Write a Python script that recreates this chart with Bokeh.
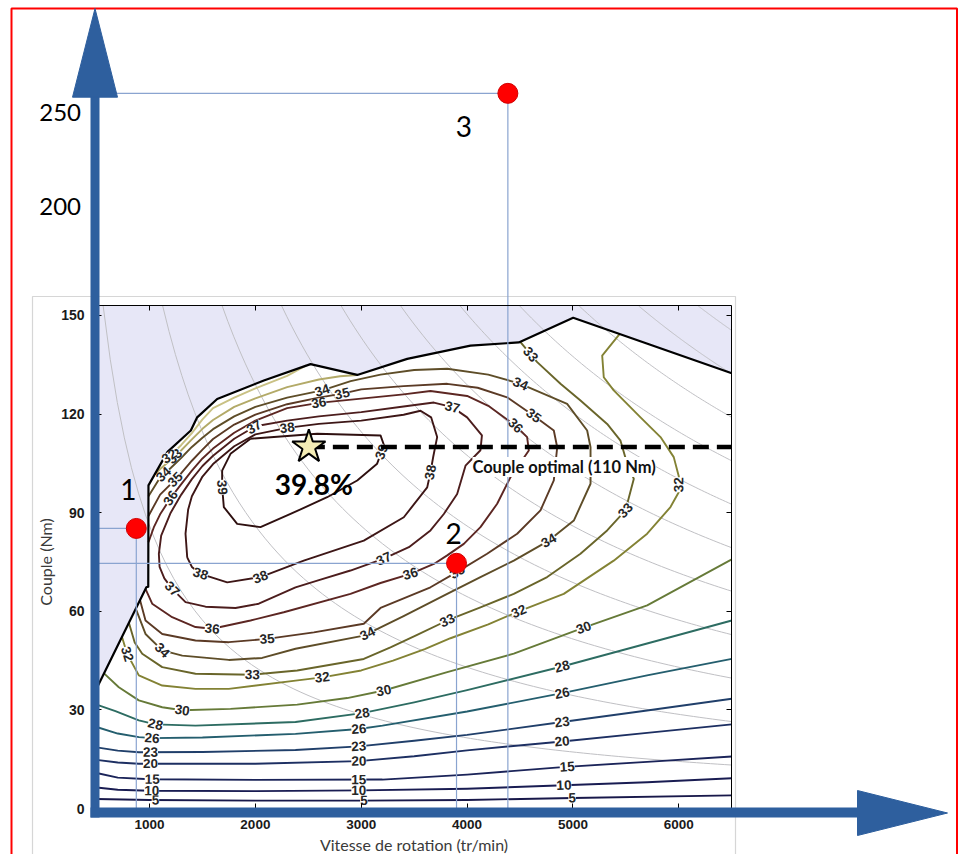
import math
import numpy as np
from bokeh.plotting import figure
from bokeh.models import Range1d, LinearAxis, FixedTicker, ColumnDataSource
from bokeh.core.properties import value
from bokeh.embed import file_html
from bokeh.resources import INLINE

# ---------------- values ----------------
x_ticks = [1000, 2000, 3000, 4000, 5000, 6000]      # tr/min
y_ticks = [0, 30, 60, 90, 120, 150]                  # Nm
overlay_ticks = [200, 250]                           # hand-drawn outer scale

# full-load (maximum torque) curve
env_rpm = [500, 970, 988, 990, 1170, 1390, 1450, 1639, 2080, 2521, 2962, 3434, 4032, 4488, 5002, 6500]
env_nm = [36.5, 67.3, 67.5, 98.3, 108.5, 115.0, 119.0, 124.6, 130.2, 135.2, 131.9, 136.8, 140.8, 141.8, 149.3, 132.4]

# iso-power background curves (kW)
power_kw = [9, 18, 27, 36, 45, 54, 63, 72, 81, 90, 99]

# efficiency contours (%)
c5_rpm = [500, 1000, 2000, 3000, 4000, 5000, 6500]
c5_nm = [2.9, 2.6, 2.4, 2.4, 2.6, 3.2, 4.0]
c10_rpm = [500, 700, 1000, 2000, 3000, 4000, 4850, 5700, 6500]
c10_nm = [6.4, 5.7, 5.4, 5.3, 5.5, 6.0, 7.0, 8.0, 9.2]
c15_rpm = [500, 700, 1000, 2000, 3200, 4000, 4900, 5700, 6500]
c15_nm = [10.8, 9.4, 8.9, 8.7, 8.8, 10.3, 12.6, 14.2, 15.8]
c20_rpm = [500, 700, 900, 2000, 2977, 3500, 4000, 4898, 5700, 6500]
c20_nm = [14.8, 14.0, 13.6, 13.6, 14.4, 15.9, 17.7, 20.4, 23.0, 25.6]
c23_rpm = [500, 700, 900, 1500, 2379, 2977, 3500, 4000, 4898, 5700, 6500]
c23_nm = [18.6, 17.6, 17.1, 17.2, 17.8, 18.9, 20.6, 22.4, 26.3, 29.8, 33.4]
c26_rpm = [500, 700, 900, 1025, 1500, 2379, 2977, 3200, 4000, 4898, 5700, 6500]
c26_nm = [24.8, 22.8, 21.7, 21.4, 21.6, 22.7, 24.2, 25.2, 29.5, 35.1, 40.5, 45.5]
c28_rpm = [500, 678, 899, 1056, 1434, 2379, 3009, 3500, 4000, 4898, 5700, 6500]
c28_nm = [31.6, 29.6, 26.8, 25.6, 25.2, 26.3, 29.0, 32.3, 36.0, 43.2, 50.2, 57.2]
c30_rpm = [570, 710, 899, 1120, 1309, 1765, 2395, 2867, 3213, 3812, 4441, 5102, 5701, 6500]
c30_nm = [41.1, 36.9, 32.9, 30.8, 29.9, 30.3, 31.6, 33.6, 35.9, 41.5, 47.1, 55.0, 61.8, 75.8]
c32_rpm = [740, 789, 899, 1120, 1434, 1749, 2379, 2631, 3000, 3300, 3600, 3843, 4200, 4488, 4913, 5385,
           5701, 5921, 5999, 6000, 5952, 5827, 5638, 5385, 5291, 5276, 5440]
c32_nm = [52.2, 47.0, 40.5, 37.4, 36.4, 36.4, 38.9, 39.9, 42.0, 45.0, 48.5, 51.8, 56.0, 60.0, 65.3, 75.4,
          83.6, 91.7, 96.2, 101.0, 106.9, 113.0, 119.0, 127.2, 131.2, 137.8, 144.3]
c32u_rpm = [1120, 1200, 1300, 1400, 1500, 1600, 1800, 2000, 2300, 2480]
c32u_nm = [105.7, 107.4, 110.6, 114.2, 118.4, 121.8, 125.0, 127.8, 131.6, 134.8]
c33_rpm = [805, 860, 931, 1120, 1434, 1970, 2395, 3024, 3276, 3528, 3812, 4126, 4441, 4756, 5071, 5323,
           5496, 5575, 5512, 5449, 5323, 5071, 4882, 4662, 4504]
c33_nm = [56.5, 50.5, 47.1, 43.0, 41.0, 40.7, 42.0, 45.5, 49.0, 52.8, 57.2, 61.2, 65.3, 70.4, 77.5, 84.6,
          90.7, 100.3, 104.9, 111.9, 117.0, 124.1, 129.2, 135.8, 141.9]
c33u_rpm = [1050, 1100, 1200, 1300, 1400, 1500, 1600, 1800, 2000, 2300, 2600, 2800, 2962]
c33u_nm = [101.7, 103.3, 106.0, 109.0, 112.3, 115.5, 118.2, 122.2, 124.8, 128.2, 130.5, 131.5, 131.9]
c34_rpm = [870, 962, 1120, 1309, 1749, 2064, 2379, 3024, 3400, 3812, 4126, 4441, 4772, 5008, 5166, 5166,
           5134, 4945, 4504, 4200, 3812, 3500, 3182, 2900, 2631, 2300, 2000, 1800, 1600, 1500, 1400,
           1300, 1200, 1100, 990]
c34_nm = [60.8, 53.1, 48.1, 46.5, 45.2, 45.8, 48.6, 52.6, 58.5, 65.3, 70.4, 75.4, 81.5, 87.6, 98.8, 109.9,
          115.0, 123.1, 129.2, 132.0, 133.8, 133.4, 132.0, 130.0, 127.2, 125.0, 122.2, 119.3, 115.4, 112.8,
          110.0, 106.7, 103.6, 100.7, 95.0]
c35_rpm = [910, 962, 1120, 1434, 1749, 2111, 2552, 3024, 3182, 3654, 3906, 4189, 4473, 4693, 4819, 4851,
           4819, 4630, 4378, 4100, 3812, 3400, 3000, 2820, 2600, 2300, 2000, 1800, 1600, 1500, 1400,
           1300, 1200, 1100, 990]
c35_nm = [63.4, 57.2, 53.1, 51.1, 50.6, 51.6, 53.6, 56.2, 61.0, 67.3, 72.0, 77.5, 83.6, 90.7, 99.8, 109.9,
          115.0, 119.5, 125.1, 128.0, 129.2, 128.5, 127.5, 126.2, 125.0, 123.0, 119.8, 116.8, 112.4, 109.2,
          105.8, 102.0, 98.7, 95.5, 89.0]
c36_rpm = [962, 1025, 1214, 1434, 1592, 1954, 2268, 2898, 3182, 3465, 3686, 3812, 3969, 4126, 4284, 4410,
           4583, 4567, 4457, 4200, 4000, 3654, 3400, 3000, 2600, 2300, 2000, 1800, 1600, 1500, 1400, 1300,
           1200, 1100, 1040, 990]
c36_nm = [66.8, 62.3, 58.2, 55.2, 54.7, 57.2, 59.7, 65.3, 68.6, 71.4, 74.4, 77.0, 80.5, 85.6, 92.7, 100.8,
          108.9, 113.0, 116.5, 122.5, 125.5, 127.0, 126.0, 124.7, 123.4, 121.8, 118.0, 114.3, 109.5, 106.5,
          102.8, 98.7, 94.5, 89.5, 85.5, 81.0]
c37_rpm = [1088, 1110, 1200, 1300, 1400, 1500, 1600, 1800, 2000, 2300, 2600, 3000, 3400, 3686, 3860, 4000,
           4140, 4126, 3985, 3906, 3780, 3654, 3450, 3213, 2898, 2600, 2379, 2032, 1812, 1529, 1340, 1214,
           1140, 1095, 1088]
c37_nm = [77.5, 83.0, 90.0, 95.5, 100.2, 104.2, 107.3, 112.5, 116.3, 118.0, 119.3, 120.6, 122.3, 123.5,
          122.1, 119.0, 113.5, 109.0, 104.3, 95.7, 89.6, 84.6, 79.5, 76.0, 72.4, 69.5, 67.3, 62.3, 61.0,
          61.4, 62.8, 66.8, 70.0, 73.5, 77.5]
c38_rpm = [1356, 1340, 1365, 1400, 1500, 1600, 1800, 2000, 2300, 2600, 3000, 3400, 3560, 3660, 3717, 3680,
           3654, 3623, 3402, 3024, 2457, 2048, 1734, 1482, 1400, 1356]
c38_nm = [76.4, 83.6, 91.0, 95.0, 101.0, 104.8, 110.2, 113.8, 115.8, 117.0, 118.0, 119.8, 121.0, 119.0,
          113.0, 107.0, 102.3, 97.7, 88.6, 81.5, 75.4, 70.4, 68.8, 71.4, 73.5, 76.4]
c39_rpm = [1954, 2584, 3182, 3215, 3150, 2962, 2678, 2332, 2048, 1828, 1702, 1686, 1686, 1765, 1954]
c39_nm = [112.5, 114.0, 113.5, 110.5, 104.9, 99.8, 94.7, 89.6, 85.6, 86.6, 91.7, 97.7, 102.8, 107.9, 112.5]

# contour labels: which line, approximate position
lab_key = ["5", "5", "5", "10", "10", "10", "15", "15", "15", "20", "20", "20", "23", "23", "23",
           "26", "26", "26", "28", "28", "28", "30", "30", "30", "32", "32", "32", "32",
           "33", "33", "33", "33", "33u", "32u", "34", "34", "34", "34", "34", "34",
           "35", "35", "35", "35", "35", "36", "36", "36", "36", "36",
           "37", "37", "37", "37", "38", "38", "38", "38", "39", "39"]
lab_rpm = [1056, 3025, 4992, 1020, 2977, 4915, 1025, 2977, 4946, 1009, 2977, 4898, 1009, 2977, 4898,
           1025, 2977, 4898, 1056, 3009, 4898, 1309, 3213, 5102, 789, 2631, 4488, 6000,
           1970, 3812, 5496, 4567, 1229, 1180, 1120, 3055, 4772, 4504, 2631, 1135,
           2111, 3906, 4630, 2820, 1261, 1592, 3465, 4457, 2599, 1198,
           1214, 3213, 3860, 1985, 1482, 2048, 3654, 2300, 1686, 3200]
lab_nm = [2.4, 2.4, 3.1, 5.4, 5.5, 7.0, 8.8, 8.9, 12.8, 13.6, 14.4, 20.4, 17.1, 18.9, 26.3,
          21.4, 24.2, 35.1, 25.6, 29.0, 43.2, 29.9, 35.9, 55.0, 47.0, 39.9, 60.0, 98.5,
          40.7, 57.2, 90.7, 137.3, 107.5, 107.5, 48.1, 53.5, 81.5, 129.2, 127.2, 101.5,
          51.6, 72.0, 119.5, 126.2, 99.5, 54.7, 71.4, 116.5, 123.4, 94.5,
          66.8, 76.0, 122.1, 116.2, 71.4, 70.4, 102.3, 116.0, 97.7, 108.4]

# optimum
optimum_rpm = 2505
optimum_nm = 110
optimum_eff = 39.8

# marked operating points
pt_rpm = [875, 3900]
pt_nm = [85.2, 74.6]
pt_name = ["1", "2"]
p3_rpm = [4385]
p3_val = [260]          # on the hand-drawn outer scale
p3_name = ["3"]

# ---------------- layout (screen calibration) ----------------
W, H = 960, 854
OFF = 0
PX_PER_RPM = 0.10586
PX_PER_NM = 3.287
X500_PAGE = 96.1
Y0_PAGE = 808.0
OV_PX = 1.886
OV250_PAGE = 111.7
TOP = 152.9


def rpm_at(px):
    return 500 + (px - X500_PAGE) / PX_PER_RPM


def nm_at(py):
    return (Y0_PAGE - py) / PX_PER_NM


def ov_at(py):
    return 250 + (OV250_PAGE - py) / OV_PX


p = figure(width=W, height=H, title=None,
           x_range=Range1d(rpm_at(OFF), rpm_at(OFF + W)),
           y_range=Range1d(nm_at(OFF + H), nm_at(OFF)),
           x_axis_type=None, y_axis_type=None,
           output_backend="svg", toolbar_location=None,
           min_border=0, outline_line_color=None,
           background_fill_color="white", border_fill_color="white")
p.extra_y_ranges = {"overlay": Range1d(ov_at(OFF + H), ov_at(OFF))}

# red outer frame
p.quad(left=[rpm_at(11)], right=[rpm_at(956.5)], top=[nm_at(8)], bottom=[nm_at(900)],
       fill_color=None, line_color="#ff0000", line_width=2)
# border of pasted chart picture
p.quad(left=[rpm_at(32)], right=[rpm_at(735)], top=[nm_at(296)], bottom=[nm_at(900)],
       fill_color=None, line_color="#d6d6d6", line_width=1.2)

# region above full-load curve
p.patch(env_rpm + [6500, 500], env_nm + [TOP, TOP], fill_color="#e7e7f7", line_color=None)

# iso-power curves T = 9549 P / n
ps_x, ps_y = [], []
for P in power_kw:
    n0 = max(500.0, 9549.0 * P / TOP)
    n = np.linspace(n0, 6500, 90)
    ps_x.append(n.tolist())
    ps_y.append((9549.0 * P / n).tolist())
p.multi_line(ps_x, ps_y, line_color="#c0c0c4", line_width=1)

pieces = {
    "5": (c5_rpm, c5_nm), "10": (c10_rpm, c10_nm), "15": (c15_rpm, c15_nm), "20": (c20_rpm, c20_nm),
    "23": (c23_rpm, c23_nm), "26": (c26_rpm, c26_nm), "28": (c28_rpm, c28_nm), "30": (c30_rpm, c30_nm),
    "32": (c32_rpm, c32_nm), "32u": (c32u_rpm, c32u_nm), "33": (c33_rpm, c33_nm), "33u": (c33u_rpm, c33u_nm),
    "34": (c34_rpm, c34_nm), "35": (c35_rpm, c35_nm), "36": (c36_rpm, c36_nm), "37": (c37_rpm, c37_nm),
    "38": (c38_rpm, c38_nm), "39": (c39_rpm, c39_nm),
}
line_colors = {
    "5": "#18184a", "10": "#191c52", "15": "#1b2459", "20": "#1d2f62", "23": "#203f6a", "26": "#245e6e",
    "28": "#2d6c62", "30": "#667a38", "32": "#838234", "32u": "#c9c184", "33": "#69652a", "33u": "#b3aa68",
    "34": "#5e4d28", "35": "#5b3a25", "36": "#5c2622", "37": "#4c1d1d", "38": "#3d1616", "39": "#2e1010",
}
keys = list(pieces)
csrc = ColumnDataSource(dict(xs=[pieces[k][0] for k in keys], ys=[pieces[k][1] for k in keys],
                             c=[line_colors[k] for k in keys]))
p.multi_line("xs", "ys", source=csrc, line_color="c", line_width=1.9, line_join="round")

# full-load curve
p.line(env_rpm, env_nm, line_color="black", line_width=2.2, line_join="round")


def snap(xs, ys, x, y):
    X = np.asarray(xs, float) * PX_PER_RPM
    Y = np.asarray(ys, float) * PX_PER_NM
    px, py = x * PX_PER_RPM, y * PX_PER_NM
    best = None
    for i in range(len(X) - 1):
        ax, ay, bx, by = X[i], Y[i], X[i + 1], Y[i + 1]
        dx, dy = bx - ax, by - ay
        L2 = dx * dx + dy * dy
        t = 0.0 if L2 == 0 else max(0.0, min(1.0, ((px - ax) * dx + (py - ay) * dy) / L2))
        qx, qy = ax + t * dx, ay + t * dy
        d = (qx - px) ** 2 + (qy - py) ** 2
        if best is None or d < best[0]:
            best = (d, qx, qy, math.atan2(dy, dx))
    _, qx, qy, ang = best
    if ang > math.pi / 2 + 1e-6:
        ang -= math.pi
    if ang < -math.pi / 2 + 1e-6:
        ang += math.pi
    return qx / PX_PER_RPM, qy / PX_PER_NM, ang


lx, ly, la, lt = [], [], [], []
for k, x, y in zip(lab_key, lab_rpm, lab_nm):
    sx, sy, a = snap(pieces[k][0], pieces[k][1], x, y)
    lx.append(sx)
    ly.append(sy)
    la.append(a)
    lt.append(k.rstrip("u"))
p.text(lx, ly, text=lt, angle=la, text_align="center", text_baseline="middle",
       text_font=value("Liberation Sans"), text_font_style="bold", text_font_size="13.5px",
       text_color="#262626", background_fill_color="white")

# guide lines of marked points
guide = "#8aa4d0"
p.multi_line([[500, pt_rpm[0]], [pt_rpm[0], pt_rpm[0]], [500, pt_rpm[1]], [pt_rpm[1], pt_rpm[1]]],
             [[pt_nm[0], pt_nm[0]], [0, pt_nm[0]], [pt_nm[1], pt_nm[1]], [0, pt_nm[1]]],
             line_color=guide, line_width=1.2)
ov_zero = ov_at(Y0_PAGE)
p.multi_line([[500, p3_rpm[0]], [p3_rpm[0], p3_rpm[0]]],
             [[p3_val[0], p3_val[0]], [ov_zero, p3_val[0]]],
             line_color=guide, line_width=1.2, y_range_name="overlay")

# optimum torque line, star and texts
p.line([optimum_rpm, 6500], [optimum_nm, optimum_nm], line_color="black", line_width=4.5,
       line_dash="16 8")
p.scatter([optimum_rpm], [optimum_nm], marker="star", size=35, fill_color="#f4edb6",
          line_color="black", line_width=2)
p.text([optimum_rpm], [optimum_nm], text=[f"{optimum_eff}%"], x_offset=5, y_offset=37,
       text_align="center", text_baseline="middle", text_font=value("Lato"), text_font_style="bold",
       text_font_size="28px", text_color="black")
p.text([4050], [optimum_nm], text=[f"Couple optimal ({optimum_nm} Nm)"], y_offset=20,
       text_align="left", text_baseline="middle", text_font=value("Lato"), text_font_style="bold",
       text_font_size="16.5px", text_color="#111111", background_fill_color="white")

# axes of the efficiency map
def style_axis(ax):
    ax.major_tick_in = 5
    ax.major_tick_out = 0
    ax.minor_tick_line_color = None
    ax.axis_line_color = "black"
    ax.major_tick_line_color = "black"
    ax.axis_label_text_font = "Lato"
    ax.axis_label_text_font_style = "normal"
    ax.axis_label_text_font_size = "16px"
    ax.axis_label_text_color = "#3a3a3a"
    ax.major_label_text_font = "Liberation Sans"
    ax.major_label_text_font_style = "bold"
    ax.major_label_text_color = "#1a1a1a"


left_ax = LinearAxis(ticker=FixedTicker(ticks=y_ticks), fixed_location=500, bounds=(0, 150),
                     axis_label="Couple (Nm)")
style_axis(left_ax)
left_ax.major_label_standoff = 12
left_ax.major_label_text_font_size = "14px"
left_ax.axis_label_standoff = 3
p.add_layout(left_ax, "left")

bottom_ax = LinearAxis(ticker=FixedTicker(ticks=x_ticks), fixed_location=0, bounds=(500, 6500),
                       axis_label="Vitesse de rotation (tr/min)")
style_axis(bottom_ax)
bottom_ax.major_label_standoff = 11
bottom_ax.major_label_text_font_size = "13.5px"
bottom_ax.axis_label_standoff = 3
p.add_layout(bottom_ax, "below")

top_ax = LinearAxis(ticker=FixedTicker(ticks=x_ticks), fixed_location=TOP, bounds=(500, 6500))
style_axis(top_ax)
top_ax.major_label_text_color = None
p.add_layout(top_ax, "above")

right_ax = LinearAxis(ticker=FixedTicker(ticks=y_ticks), fixed_location=6500, bounds=(0, TOP))
style_axis(right_ax)
right_ax.major_label_text_color = None
p.add_layout(right_ax, "right")

# outer hand-drawn scale labels
ov_ax = LinearAxis(ticker=FixedTicker(ticks=overlay_ticks), y_range_name="overlay",
                   fixed_location=rpm_at(94.5))
ov_ax.axis_line_color = None
ov_ax.major_tick_line_color = None
ov_ax.minor_tick_line_color = None
ov_ax.major_tick_in = 0
ov_ax.major_tick_out = 0
ov_ax.major_label_standoff = 14
ov_ax.major_label_text_font = "Lato"
ov_ax.major_label_text_font_size = "24px"
ov_ax.major_label_text_color = "black"
p.add_layout(ov_ax, "left")

# big blue arrows
blue = "#2e5f9e"
shaft_x = rpm_at(94.5)
shaft_y = nm_at(812)
p.segment([shaft_x], [nm_at(817)], [shaft_x], [nm_at(96)], line_color=blue, line_width=9, level="overlay")
p.segment([rpm_at(90)], [shaft_y], [rpm_at(858)], [shaft_y], line_color=blue, line_width=10,
          level="overlay")
p.patch([rpm_at(72), rpm_at(117), shaft_x], [nm_at(96.7), nm_at(96.7), nm_at(8)],
        fill_color=blue, line_color=blue, level="overlay")
p.patch([rpm_at(857), rpm_at(857), rpm_at(947)], [nm_at(790), nm_at(835), nm_at(812.5)],
        fill_color=blue, line_color=blue, level="overlay")

# red points and their numbers
p.scatter(pt_rpm, pt_nm, size=20, fill_color="#ff0000", line_color="#d00000", level="overlay")
p.scatter(p3_rpm, p3_val, size=20, fill_color="#ff0000", line_color="#d00000", level="overlay",
          y_range_name="overlay")
num_style = dict(text_align="center", text_baseline="middle", text_font=value("Lato"),
                 text_font_size="28px", text_color="black", level="overlay")
p.text([pt_rpm[0]], [pt_nm[0]], text=[pt_name[0]], x_offset=-8, y_offset=-39, **num_style)
p.text([pt_rpm[1]], [pt_nm[1]], text=[pt_name[1]], x_offset=-3, y_offset=-30, **num_style)
p.text(p3_rpm, p3_val, text=p3_name, x_offset=-44, y_offset=33, y_range_name="overlay", **num_style)

open("out.html", "w").write(file_html(p, INLINE))
